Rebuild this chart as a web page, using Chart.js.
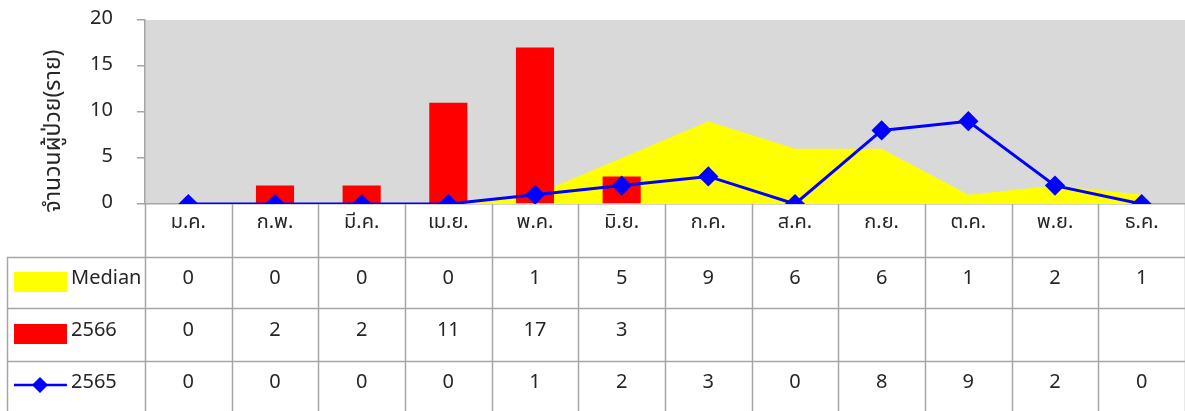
<!DOCTYPE html>
<html>
<head>
<meta charset="utf-8">
<script src="https://cdn.jsdelivr.net/npm/chart.js@4.4.1/dist/chart.umd.min.js"></script>
<style>
html,body{margin:0;padding:0;background:#fff;}
#wrap{width:1185px;height:411px;position:relative;}
</style>
</head>
<body>
<div id="wrap"><canvas id="c"></canvas></div>
<script>
const categories = ['ม.ค.','ก.พ.','มี.ค.','เม.ย.','พ.ค.','มิ.ย.','ก.ค.','ส.ค.','ก.ย.','ต.ค.','พ.ย.','ธ.ค.'];
const medianValues = [0,0,0,0,1,5,9,6,6,1,2,1];
const values2566 = [0,2,2,11,17,3,null,null,null,null,null,null];
const values2565 = [0,0,0,0,1,2,3,0,8,9,2,0];
const yTicks = [0,5,10,15,20];
const seriesNames = ['Median','2566','2565'];
const yTitle = 'จำนวนผู้ป่วย(ราย)';

const FONT = '"Noto Sans Thai", "Noto Sans", sans-serif';
const GRID = '#a6a6a6';
const TXT = '#262626';

function zeroPad(s) { s.paddingTop = 0; s.paddingBottom = 0; s.paddingLeft = 0; s.paddingRight = 0; }

const tablePlugin = {
  id: 'tablePlugin',
  beforeDraw(chart) {
    const {ctx, chartArea: a} = chart;
    ctx.save();
    ctx.fillStyle = '#d9d9d9';
    ctx.fillRect(a.left, a.top, a.right - a.left, a.bottom - a.top);
    ctx.restore();
  },
  afterDraw(chart) {
    const {ctx, chartArea: a} = chart;
    const xs = chart.scales.x;
    const n = categories.length;
    const colW = (a.right - a.left) / n;
    const rowLines = [257, 308, 361, 411];
    const rowCenters = [230, 280, 332, 384];
    const tableLeft = 7;
    ctx.save();
    ctx.strokeStyle = GRID;
    ctx.lineWidth = 1.5;
    for (let i = 0; i <= n; i++) {
      const x = i < n ? xs.getPixelForValue(i) - colW / 2 : xs.getPixelForValue(n - 1) + colW / 2;
      ctx.beginPath();
      ctx.moveTo(Math.round(x) + 0.5, a.bottom);
      ctx.lineTo(Math.round(x) + 0.5, 411);
      ctx.stroke();
    }
    ctx.beginPath();
    ctx.moveTo(tableLeft + 0.5, rowLines[0]);
    ctx.lineTo(tableLeft + 0.5, 411);
    ctx.stroke();
    for (let r = 0; r < 3; r++) {
      ctx.beginPath();
      ctx.moveTo(tableLeft, rowLines[r] + 0.5);
      ctx.lineTo(a.right, rowLines[r] + 0.5);
      ctx.stroke();
    }
    ctx.fillStyle = TXT;
    ctx.font = '20px ' + FONT;
    ctx.textAlign = 'center';
    ctx.textBaseline = 'middle';
    for (let i = 0; i < n; i++) {
      const x = xs.getPixelForValue(i);
      ctx.fillText(categories[i], x, 224);
      const rows = [medianValues, values2566, values2565];
      for (let r = 0; r < 3; r++) {
        const v = rows[r][i];
        if (v !== null && v !== undefined) ctx.fillText(String(v), x, rowCenters[r + 1]);
      }
    }
    ctx.textAlign = 'left';
    ctx.fillStyle = '#ffff00';
    ctx.fillRect(14, 272, 53, 20);
    ctx.fillStyle = '#ff0000';
    ctx.fillRect(14, 324, 53, 20);
    ctx.strokeStyle = '#0000ff';
    ctx.lineWidth = 2.5;
    ctx.beginPath();
    ctx.moveTo(14, 385); ctx.lineTo(67, 385); ctx.stroke();
    ctx.fillStyle = '#0000ff';
    ctx.beginPath();
    ctx.moveTo(40, 377); ctx.lineTo(48, 385); ctx.lineTo(40, 393); ctx.lineTo(32, 385); ctx.closePath();
    ctx.fill();
    ctx.fillStyle = TXT;
    ctx.fillText(seriesNames[0], 71, rowCenters[1]);
    ctx.fillText(seriesNames[1], 71, rowCenters[2]);
    ctx.fillText(seriesNames[2], 71, rowCenters[3]);
    ctx.save();
    ctx.translate(55, 131);
    ctx.rotate(-Math.PI / 2);
    ctx.textAlign = 'center';
    ctx.font = '23px ' + FONT;
    ctx.fillText(yTitle, 0, 0);
    ctx.restore();
    ctx.restore();
  }
};

new Chart(document.getElementById('c'), {
  type: 'bar',
  data: {
    labels: categories,
    datasets: [
      {
        type: 'line', label: seriesNames[2], data: values2565, order: 0,
        borderColor: '#0000ff', backgroundColor: '#0000ff', borderWidth: 3,
        pointStyle: 'rectRot', pointRadius: 8, pointHoverRadius: 8, tension: 0, fill: false
      },
      {
        type: 'bar', label: seriesNames[1], data: values2566, order: 1,
        backgroundColor: '#ff0000', borderWidth: 0,
        barPercentage: 0.44, categoryPercentage: 1
      },
      {
        type: 'line', label: seriesNames[0], data: medianValues, order: 2,
        borderColor: '#ffff00', backgroundColor: '#ffff00', borderWidth: 0,
        pointRadius: 0, tension: 0, fill: 'origin'
      }
    ]
  },
  options: {
    responsive: true,
    maintainAspectRatio: false,
    animation: false,
    layout: { autoPadding: false, padding: { top: 20, right: 0, left: 0, bottom: 0 } },
    plugins: { legend: { display: false }, tooltip: { enabled: false } },
    scales: {
      x: {
        offset: true,
        grid: { display: false },
        border: { display: true, color: GRID, width: 1.5 },
        ticks: { display: false },
        afterFit(s) { s.height = 207; zeroPad(s); }
      },
      y: {
        min: 0, max: 20,
        afterBuildTicks(s) { s.ticks = yTicks.map(v => ({ value: v })); },
        grid: { drawOnChartArea: false, drawTicks: true, tickLength: 8, color: GRID, lineWidth: 1.5 },
        border: { display: true, color: GRID, width: 1.5 },
        ticks: { padding: 24, color: TXT, font: { size: 20, family: FONT } },
        afterFit(s) { s.width = 145; zeroPad(s); }
      }
    }
  },
  plugins: [tablePlugin]
});
</script>
</body>
</html>
